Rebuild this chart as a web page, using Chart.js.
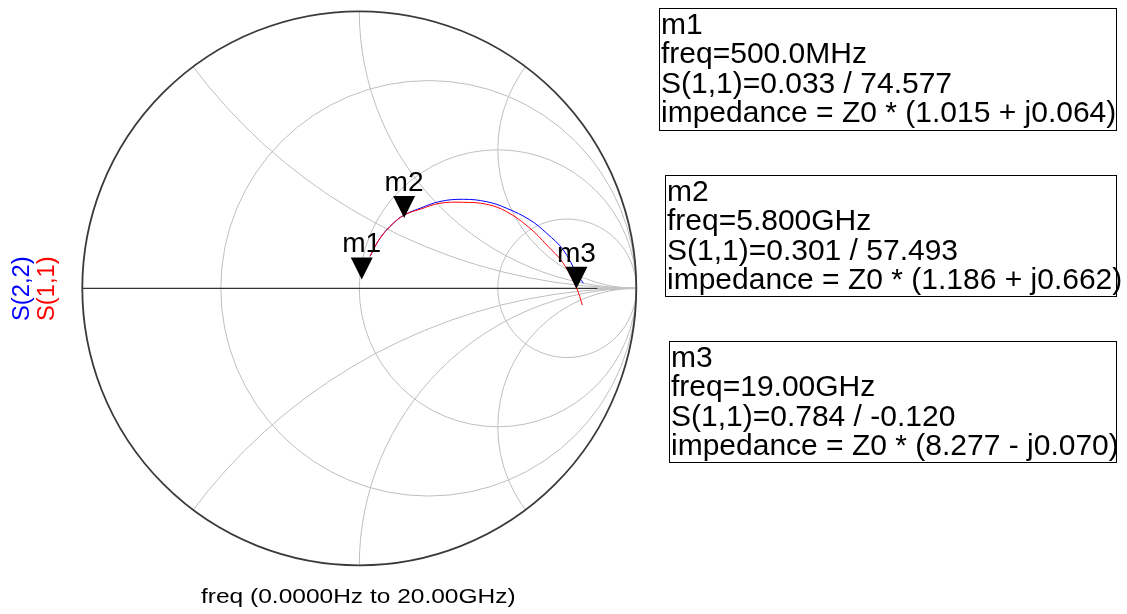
<!DOCTYPE html>
<html>
<head>
<meta charset="utf-8">
<script src="https://cdn.jsdelivr.net/npm/chart.js@4/dist/chart.umd.min.js"></script>
<style>
html,body{margin:0;padding:0;background:#fff;}
#wrap{position:relative;width:1127px;height:614px;overflow:hidden;background:#fff;}
#c{position:absolute;left:0;top:0;}
.txt{position:absolute;font-family:"Liberation Sans",Arial,sans-serif;white-space:pre;color:#000;}
.box{position:absolute;border:1px solid #000;background:#fff;box-sizing:border-box;}
.box .txt{left:1px;font-size:30px;line-height:29.3px;}
.rot{transform-origin:0 0;font-size:23px;line-height:23px;}
</style>
</head>
<body>
<div id="wrap">
<canvas id="c" width="1127" height="614"></canvas>
</div>
<script>
// ---- data (reflection coefficient, real / imaginary parts) ----
const s11Re = [0.0386, 0.0747, 0.1227, 0.165, 0.2191, 0.2913, 0.3755, 0.46, 0.5321, 0.6162, 0.6765, 0.7365, 0.7848, 0.805];
const s11Im = [0.1155, 0.1805, 0.2347, 0.266, 0.2852, 0.3069, 0.3105, 0.3032, 0.2765, 0.2166, 0.1563, 0.0903, 0.0, -0.0603];
const s22Re = [0.0386, 0.0747, 0.1227, 0.165, 0.2191, 0.2913, 0.3755, 0.46, 0.5321, 0.6162, 0.6765, 0.7365, 0.7848, 0.8087];
const s22Im = [0.1155, 0.1805, 0.2347, 0.266, 0.2888, 0.3134, 0.3213, 0.3126, 0.2888, 0.2466, 0.1986, 0.1383, 0.0542, 0.018];

// markers
const markerNames = ['m1', 'm2', 'm3'];
const markerFreq = ['500.0MHz', '5.800GHz', '19.00GHz'];
const markerMag = [0.033, 0.301, 0.784];
const markerAng = [74.577, 57.493, -0.120];
const markerZ = ['1.015 + j0.064', '1.186 + j0.662', '8.277 - j0.070'];

// Smith chart grid values
const resistanceCircles = [1/3, 1, 3];
const reactanceArcs = [0.5, 1, 2];

const seriesNames = ['S(1,1)', 'S(2,2)'];
const seriesColors = ['#ff0000', '#0000ff'];
const sweepLabel = 'freq (0.0000Hz to 20.00GHz)';

// ---- chart ----
function pts(re, im){ return re.map((v,i)=>({x:v, y:im[i]})); }

const smithPlugin = {
  id: 'smith',
  beforeDatasetsDraw(chart){
    const {ctx, scales:{x, y}} = chart;
    const px = v => x.getPixelForValue(v);
    const py = v => y.getPixelForValue(v);
    const R = px(1) - px(0);
    ctx.save();
    ctx.beginPath();
    ctx.arc(px(0), py(0), R, 0, Math.PI*2);
    ctx.clip();
    ctx.strokeStyle = '#bfbfbf';
    ctx.lineWidth = 1;
    resistanceCircles.forEach(r => {
      ctx.beginPath();
      ctx.arc(px(r/(r+1)), py(0), px(1/(r+1)) - px(0), 0, Math.PI*2);
      ctx.stroke();
    });
    reactanceArcs.forEach(xv => {
      [xv, -xv].forEach(v => {
        ctx.beginPath();
        ctx.arc(px(1), py(1/v), Math.abs(px(1/Math.abs(v)) - px(0)), 0, Math.PI*2);
        ctx.stroke();
      });
    });
    ctx.restore();
    // real axis
    ctx.save();
    ctx.strokeStyle = '#c4c4c4';
    ctx.lineWidth = 2;
    ctx.beginPath(); ctx.moveTo(px(0.86), py(0)); ctx.lineTo(px(1), py(0)); ctx.stroke();
    ctx.strokeStyle = '#333333';
    ctx.lineWidth = 1.2;
    ctx.beginPath(); ctx.moveTo(px(-1), py(0)); ctx.lineTo(px(0.86), py(0)); ctx.stroke();
    // outer circle
    ctx.strokeStyle = '#3a3a3a';
    ctx.lineWidth = 1.8;
    ctx.beginPath(); ctx.arc(px(0), py(0), R, 0, Math.PI*2); ctx.stroke();
    ctx.restore();
  },
  afterDatasetsDraw(chart){
    const {ctx, scales:{x, y}} = chart;
    ctx.save();
    markerNames.forEach((n, i) => {
      const a = markerAng[i] * Math.PI / 180;
      const tx = x.getPixelForValue(markerMag[i]*Math.cos(a));
      const ty = y.getPixelForValue(markerMag[i]*Math.sin(a));
      ctx.fillStyle = '#000';
      ctx.beginPath();
      ctx.moveTo(tx, ty);
      ctx.lineTo(tx - 11, ty - 22);
      ctx.lineTo(tx + 11, ty - 22);
      ctx.closePath();
      ctx.fill();
      ctx.font = '27px "Liberation Sans", Arial, sans-serif';
      ctx.textAlign = 'center';
      ctx.textBaseline = 'alphabetic';
      ctx.save();
      ctx.translate(tx, ty - 27);
      ctx.scale(1.04, 1);
      ctx.fillText(n, 0, 0);
      ctx.restore();
    });
    ctx.restore();
  }
};

new Chart(document.getElementById('c'), {
  type: 'scatter',
  data: {
    datasets: [
      {label: seriesNames[0], data: pts(s11Re, s11Im), showLine: true, borderColor: seriesColors[0], borderWidth: 1, pointRadius: 0, tension: 0.4, fill: false},
      {label: seriesNames[1], data: pts(s22Re, s22Im), showLine: true, borderColor: seriesColors[1], borderWidth: 1, pointRadius: 0, tension: 0.4, fill: false}
    ]
  },
  options: {
    responsive: false,
    animation: false,
    devicePixelRatio: 1,
    layout: {padding: {left: 82.3, right: 490.7, top: 11.3, bottom: 48.7}},
    scales: {
      x: {type: 'linear', min: -1, max: 1, display: false},
      y: {type: 'linear', min: -1, max: 1, display: false}
    },
    plugins: {legend: {display: false}, tooltip: {enabled: false}}
  },
  plugins: [smithPlugin]
});

// ---- text elements ----
const wrap = document.getElementById('wrap');
function addDiv(cls, text, css){
  const d = document.createElement('div');
  d.className = cls; d.textContent = text;
  Object.assign(d.style, css);
  wrap.appendChild(d);
  return d;
}
// rotated series labels (S(2,2) blue outside, S(1,1) red inside), fitted to 65px length
[[seriesNames[1], seriesColors[1], 10], [seriesNames[0], seriesColors[0], 35]].forEach(([t, c, l]) => {
  const d = addDiv('txt rot', t, {left: l + 'px', top: '321px', color: c});
  const s = 65 / d.offsetWidth;
  d.style.transform = 'rotate(-90deg) scaleX(' + s.toFixed(3) + ')';
});
// sweep label, fitted to 315px width
const fl = addDiv('txt', sweepLabel, {left: '201px', top: '584.5px', fontSize: '21px', lineHeight: '21px', transformOrigin: '0 0'});
fl.style.transform = 'scaleX(' + (315 / fl.offsetWidth).toFixed(3) + ')';

// marker boxes
const boxPos = [[659, 8, 458, 123], [665, 175, 452, 122], [669, 341, 448, 122]];
markerNames.forEach((n, i) => {
  const b = document.createElement('div');
  b.className = 'box';
  Object.assign(b.style, {left: boxPos[i][0]+'px', top: boxPos[i][1]+'px', width: boxPos[i][2]+'px', height: boxPos[i][3]+'px'});
  const lines = [n, 'freq=' + markerFreq[i], 'S(1,1)=' + markerMag[i].toFixed(3) + ' / ' + markerAng[i].toFixed(3), 'impedance = Z0 * (' + markerZ[i] + ')'];
  const t = document.createElement('div');
  t.className = 'txt';
  t.style.top = '0px';
  t.textContent = lines.join('\n');
  b.appendChild(t);
  wrap.appendChild(b);
});
</script>
</body>
</html>
